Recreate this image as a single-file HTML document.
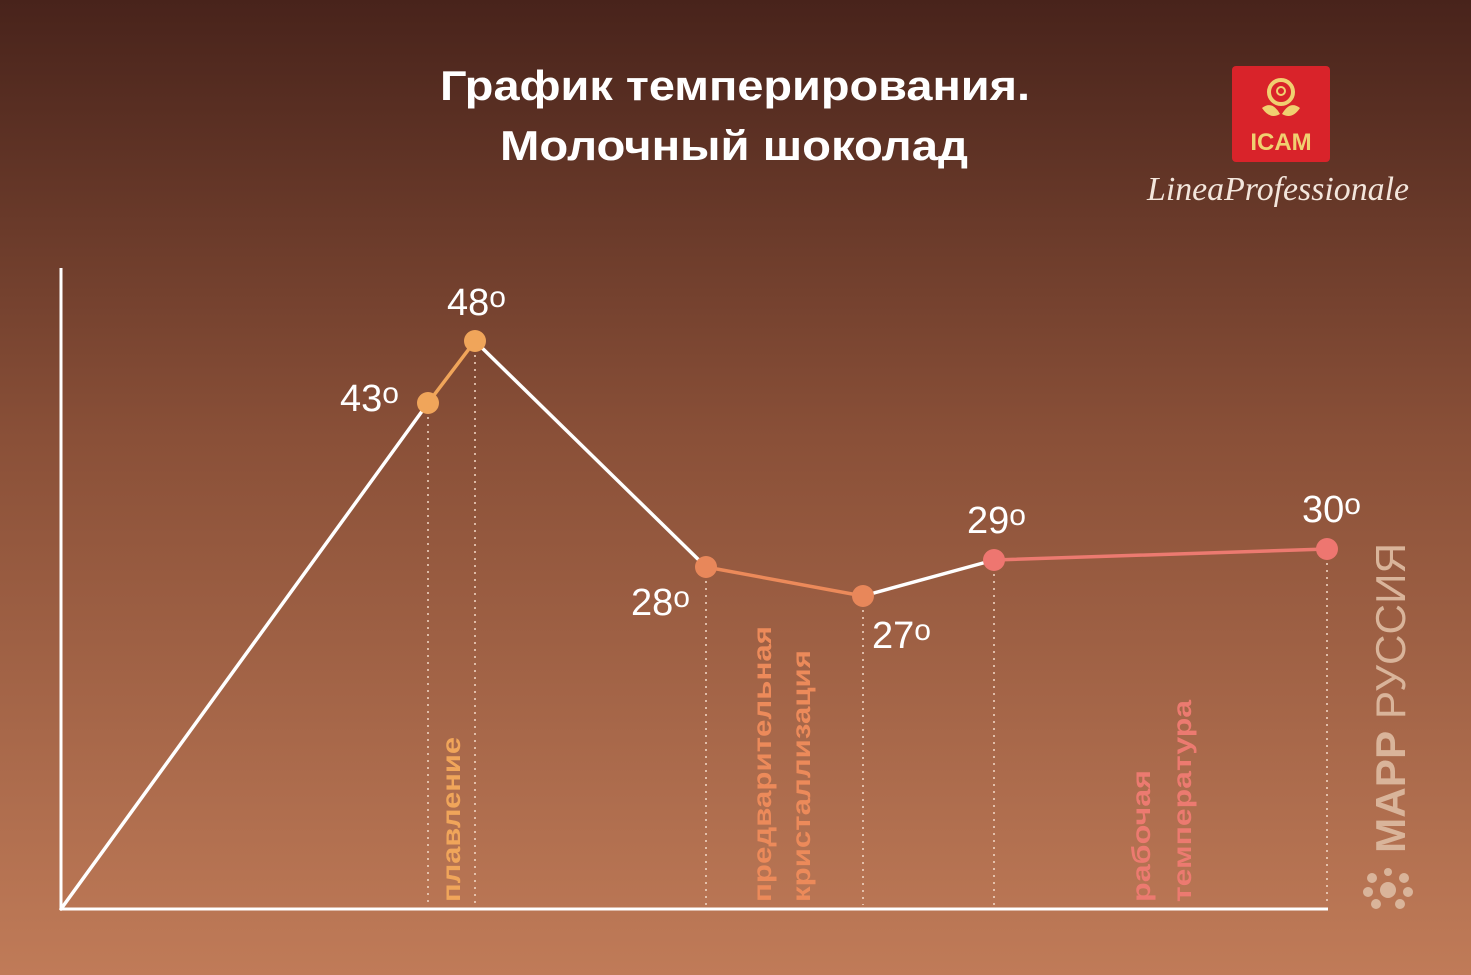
<!DOCTYPE html>
<html><head><meta charset="utf-8"><style>
html,body{margin:0;padding:0;}
body{width:1471px;height:975px;overflow:hidden;}
svg{display:block;}
text{font-family:"Liberation Sans",sans-serif;}
</style></head><body>
<svg width="1471" height="975" viewBox="0 0 1471 975" xmlns="http://www.w3.org/2000/svg">
<defs>
<linearGradient id="bg" x1="0" y1="0" x2="0" y2="1">
<stop offset="0" stop-color="#48231b"/>
<stop offset="0.45" stop-color="#8a5038"/>
<stop offset="1" stop-color="#c07b58"/>
</linearGradient>
</defs>
<rect width="1471" height="975" fill="url(#bg)"/>
<text x="440" y="100" font-size="42" font-weight="bold" fill="#fff" textLength="590" lengthAdjust="spacingAndGlyphs">График темперирования.</text>
<text x="500" y="160" font-size="42" font-weight="bold" fill="#fff" textLength="468" lengthAdjust="spacingAndGlyphs">Молочный шоколад</text>

<!-- logo -->
<rect x="1232" y="66" width="98" height="96" rx="4" fill="#d9232a"/>
<circle cx="1281" cy="92" r="12" fill="none" stroke="#f0d070" stroke-width="4"/>
<circle cx="1281" cy="91" r="4" fill="none" stroke="#f0d070" stroke-width="2"/>
<path d="M1262 108 q10 -8 18 6 q-10 6 -18 -6z M1300 108 q-10 -8 -18 6 q10 6 18 -6z" fill="#f0d070"/>
<text x="1281" y="150" text-anchor="middle" font-size="24" font-weight="bold" fill="#f0d070">ICAM</text>
<text x="1278" y="200" text-anchor="middle" font-size="34" font-style="italic" fill="#f3e6dc" style="font-family:'Liberation Serif',serif" textLength="262" lengthAdjust="spacingAndGlyphs">LineaProfessionale</text>

<!-- axes -->
<line x1="61" y1="268" x2="61" y2="910" stroke="#fff" stroke-width="3"/>
<line x1="60" y1="909" x2="1328" y2="909" stroke="#fff" stroke-width="3"/>

<!-- dotted guides -->
<g stroke="#f3d9c8" stroke-width="1.5" stroke-dasharray="2 5">
<line x1="428" y1="403" x2="428" y2="905"/>
<line x1="475" y1="341" x2="475" y2="905"/>
<line x1="706" y1="567" x2="706" y2="905"/>
<line x1="863" y1="596" x2="863" y2="905"/>
<line x1="994" y1="560" x2="994" y2="905"/>
<line x1="1327" y1="549" x2="1327" y2="905"/>
</g>

<!-- lines -->
<g stroke-width="3.5" fill="none" stroke-linecap="round">
<line x1="61" y1="909" x2="428" y2="403" stroke="#fff"/>
<line x1="428" y1="403" x2="475" y2="341" stroke="#f0a55a"/>
<line x1="475" y1="341" x2="706" y2="567" stroke="#fff"/>
<line x1="706" y1="567" x2="863" y2="596" stroke="#ec8a5a"/>
<line x1="863" y1="596" x2="994" y2="560" stroke="#fff"/>
<line x1="994" y1="560" x2="1327" y2="549" stroke="#ec7a70"/>
</g>
<circle cx="428" cy="403" r="11" fill="#f0a55a"/>
<circle cx="475" cy="341" r="11" fill="#f0a55a"/>
<circle cx="706" cy="567" r="11" fill="#e8875a"/>
<circle cx="863" cy="596" r="11" fill="#e8875a"/>
<circle cx="994" cy="560" r="11" fill="#ee7670"/>
<circle cx="1327" cy="549" r="11" fill="#ee7670"/>

<!-- value labels -->
<g font-size="38" fill="#fff">
<text x="340" y="411">43<tspan font-size="30" dy="-8">o</tspan></text>
<text x="447" y="315">48<tspan font-size="30" dy="-8">o</tspan></text>
<text x="631" y="615">28<tspan font-size="30" dy="-8">o</tspan></text>
<text x="872" y="648">27<tspan font-size="30" dy="-8">o</tspan></text>
<text x="967" y="533">29<tspan font-size="30" dy="-8">o</tspan></text>
<text x="1302" y="522">30<tspan font-size="30" dy="-8">o</tspan></text>
</g>

<!-- phase labels -->
<g font-size="26" font-weight="bold">
<text transform="translate(460,902) rotate(-90)" fill="#f0a55a" textLength="165" lengthAdjust="spacingAndGlyphs">плавление</text>
<text transform="translate(771,902) rotate(-90)" fill="#ec8a5a" textLength="276" lengthAdjust="spacingAndGlyphs">предварительная</text>
<text transform="translate(810,902) rotate(-90)" fill="#ec8a5a" textLength="252" lengthAdjust="spacingAndGlyphs">кристаллизация</text>
<text transform="translate(1150,902) rotate(-90)" fill="#ec7a70" textLength="132" lengthAdjust="spacingAndGlyphs">рабочая</text>
<text transform="translate(1191,902) rotate(-90)" fill="#ec7a70" textLength="202" lengthAdjust="spacingAndGlyphs">температура</text>
</g>

<!-- MAPP watermark -->
<text transform="translate(1405,853) rotate(-90)" font-size="42" fill="#d9b49a" textLength="310" lengthAdjust="spacingAndGlyphs"><tspan font-weight="bold">МАРР</tspan> РУССИЯ</text>
<g fill="#d9b49a">
<circle cx="1388" cy="890" r="8"/>
<circle cx="1372" cy="878" r="5"/><circle cx="1404" cy="878" r="5"/>
<circle cx="1368" cy="892" r="5"/><circle cx="1408" cy="892" r="5"/>
<circle cx="1376" cy="904" r="5"/><circle cx="1400" cy="904" r="5"/>
<circle cx="1388" cy="872" r="4"/>
</g>
</svg>
</body></html>
